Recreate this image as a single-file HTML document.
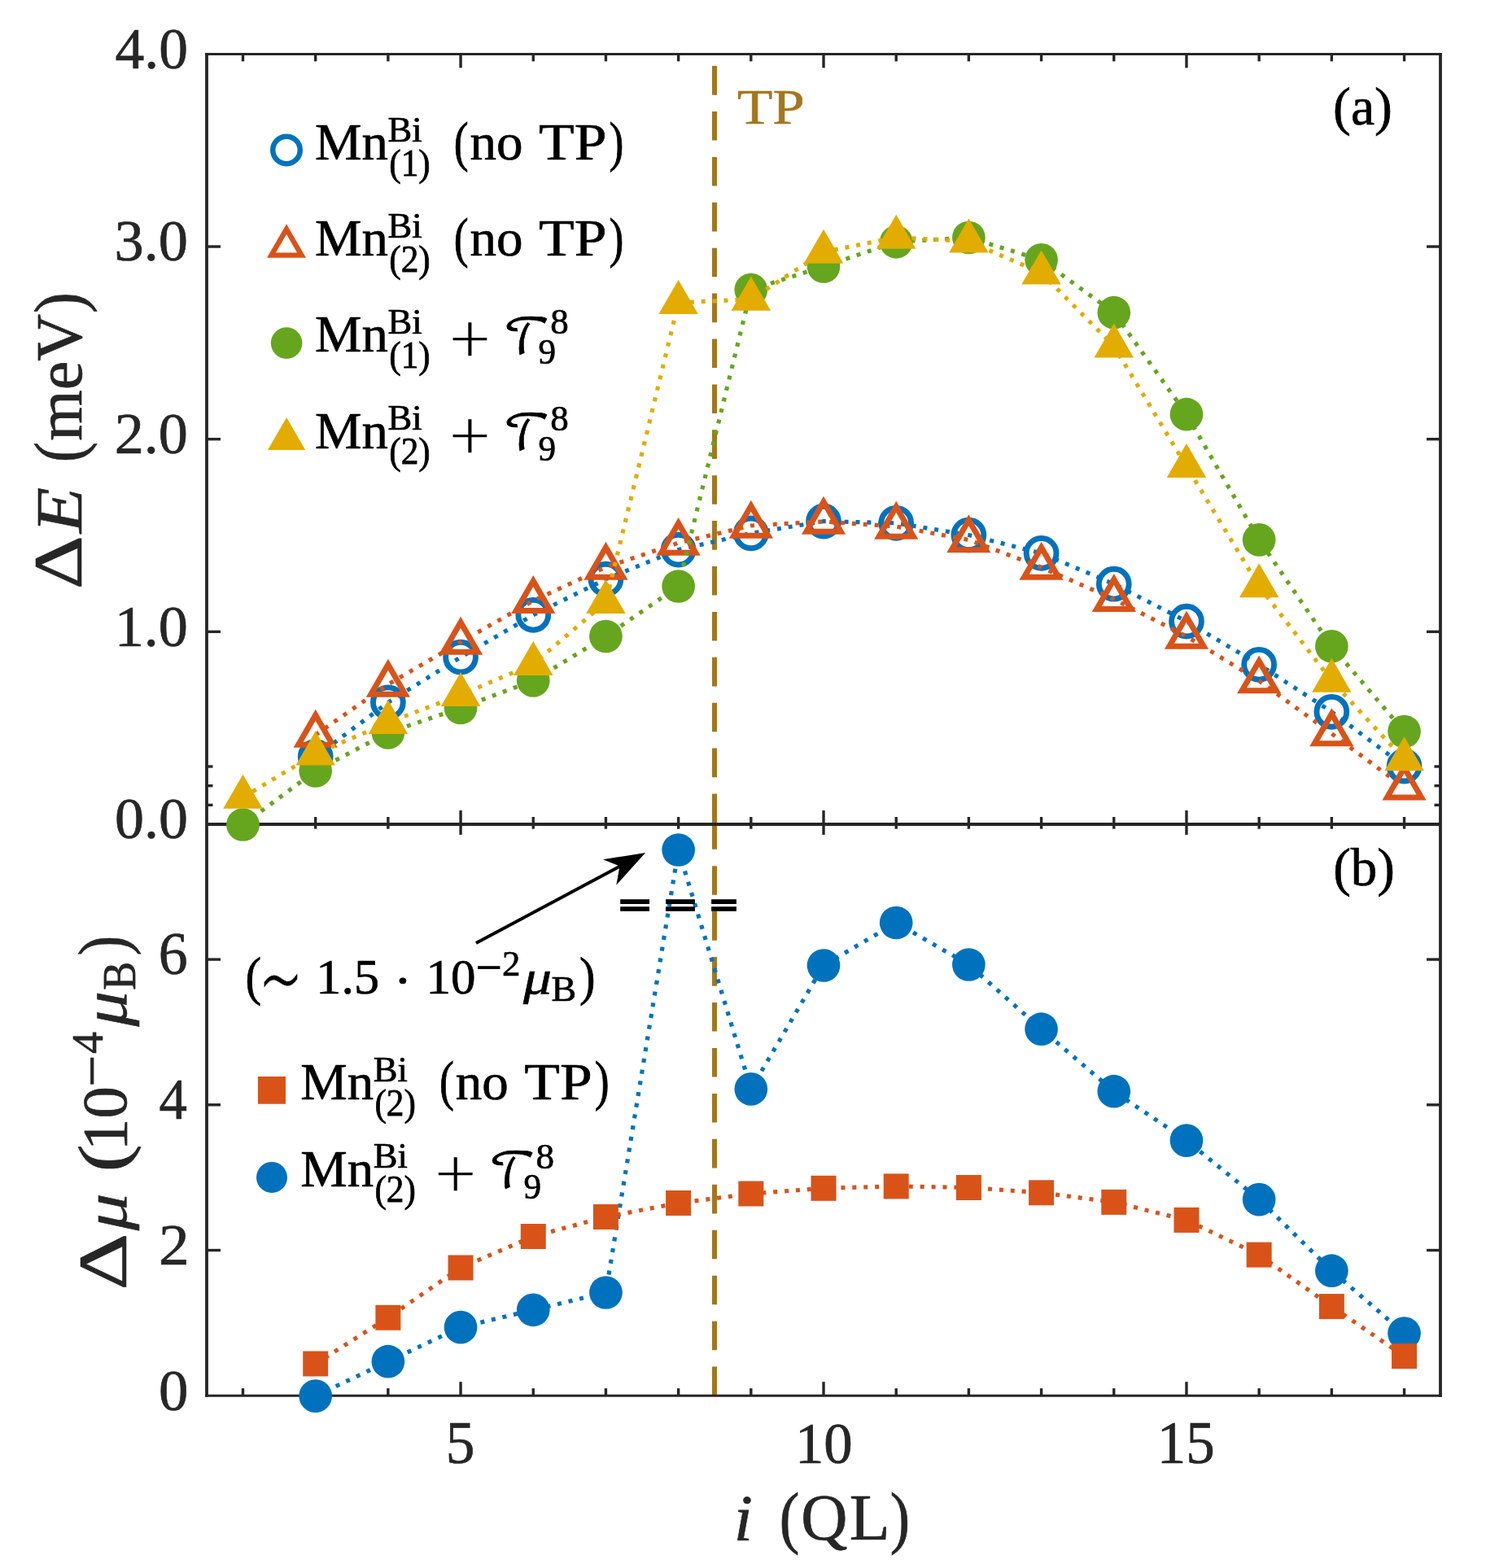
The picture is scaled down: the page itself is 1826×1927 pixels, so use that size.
<!DOCTYPE html>
<html><head><meta charset="utf-8"><title>Delta E and Delta mu vs i (QL)</title><style>html,body{margin:0;padding:0;background:#fff;}body{width:1826px;height:1927px;overflow:hidden;}svg text{font-kerning:none;white-space:pre;}</style></head><body>
<svg width="1826" height="1927" viewBox="0 0 1826 1927" style="display:block">
<rect width="1826" height="1927" fill="#fff"/>
<defs><clipPath id="cl"><rect x="254" y="1013" width="1516" height="702.2"/></clipPath></defs>
<line x1="878.0" y1="81.1" x2="878.0" y2="1013" stroke="#A5761D" stroke-width="6" stroke-dasharray="35.6 20.3"/>
<g clip-path="url(#cl)"><line x1="878.0" y1="1008.2" x2="878.0" y2="1715.2" stroke="#A5761D" stroke-width="6" stroke-dasharray="35.6 20.35"/></g>
<g stroke="#262626" fill="none">
<line x1="252.1" y1="66.4" x2="1771.9" y2="66.4" stroke-width="3.0"/>
<line x1="254.0" y1="1013.0" x2="1770.0" y2="1013.0" stroke-width="4"/>
<line x1="252.1" y1="1715.2" x2="1771.9" y2="1715.2" stroke-width="3.0"/>
<line x1="254.0" y1="64.9" x2="254.0" y2="1716.7" stroke-width="3.8"/>
<line x1="1770.0" y1="64.9" x2="1770.0" y2="1716.7" stroke-width="3.8"/>
<line x1="298.50" y1="66.4" x2="298.50" y2="75.4" stroke-width="3.4"/>
<line x1="298.50" y1="1004.0" x2="298.50" y2="1018.7" stroke-width="3.4"/>
<line x1="298.50" y1="1706.2" x2="298.50" y2="1715.2" stroke-width="3.4"/>
<line x1="387.69" y1="66.4" x2="387.69" y2="75.4" stroke-width="3.4"/>
<line x1="387.69" y1="1004.0" x2="387.69" y2="1018.7" stroke-width="3.4"/>
<line x1="387.69" y1="1706.2" x2="387.69" y2="1715.2" stroke-width="3.4"/>
<line x1="476.88" y1="66.4" x2="476.88" y2="75.4" stroke-width="3.4"/>
<line x1="476.88" y1="1004.0" x2="476.88" y2="1018.7" stroke-width="3.4"/>
<line x1="476.88" y1="1706.2" x2="476.88" y2="1715.2" stroke-width="3.4"/>
<line x1="566.06" y1="66.4" x2="566.06" y2="83.4" stroke-width="3.4"/>
<line x1="566.06" y1="996.0" x2="566.06" y2="1025.9" stroke-width="3.4"/>
<line x1="566.06" y1="1698.2" x2="566.06" y2="1715.2" stroke-width="3.4"/>
<line x1="655.25" y1="66.4" x2="655.25" y2="75.4" stroke-width="3.4"/>
<line x1="655.25" y1="1004.0" x2="655.25" y2="1018.7" stroke-width="3.4"/>
<line x1="655.25" y1="1706.2" x2="655.25" y2="1715.2" stroke-width="3.4"/>
<line x1="744.44" y1="66.4" x2="744.44" y2="75.4" stroke-width="3.4"/>
<line x1="744.44" y1="1004.0" x2="744.44" y2="1018.7" stroke-width="3.4"/>
<line x1="744.44" y1="1706.2" x2="744.44" y2="1715.2" stroke-width="3.4"/>
<line x1="833.63" y1="66.4" x2="833.63" y2="75.4" stroke-width="3.4"/>
<line x1="833.63" y1="1004.0" x2="833.63" y2="1018.7" stroke-width="3.4"/>
<line x1="833.63" y1="1706.2" x2="833.63" y2="1715.2" stroke-width="3.4"/>
<line x1="922.82" y1="66.4" x2="922.82" y2="75.4" stroke-width="3.4"/>
<line x1="922.82" y1="1004.0" x2="922.82" y2="1018.7" stroke-width="3.4"/>
<line x1="922.82" y1="1706.2" x2="922.82" y2="1715.2" stroke-width="3.4"/>
<line x1="1012.01" y1="66.4" x2="1012.01" y2="83.4" stroke-width="3.4"/>
<line x1="1012.01" y1="996.0" x2="1012.01" y2="1025.9" stroke-width="3.4"/>
<line x1="1012.01" y1="1698.2" x2="1012.01" y2="1715.2" stroke-width="3.4"/>
<line x1="1101.20" y1="66.4" x2="1101.20" y2="75.4" stroke-width="3.4"/>
<line x1="1101.20" y1="1004.0" x2="1101.20" y2="1018.7" stroke-width="3.4"/>
<line x1="1101.20" y1="1706.2" x2="1101.20" y2="1715.2" stroke-width="3.4"/>
<line x1="1190.39" y1="66.4" x2="1190.39" y2="75.4" stroke-width="3.4"/>
<line x1="1190.39" y1="1004.0" x2="1190.39" y2="1018.7" stroke-width="3.4"/>
<line x1="1190.39" y1="1706.2" x2="1190.39" y2="1715.2" stroke-width="3.4"/>
<line x1="1279.59" y1="66.4" x2="1279.59" y2="75.4" stroke-width="3.4"/>
<line x1="1279.59" y1="1004.0" x2="1279.59" y2="1018.7" stroke-width="3.4"/>
<line x1="1279.59" y1="1706.2" x2="1279.59" y2="1715.2" stroke-width="3.4"/>
<line x1="1368.78" y1="66.4" x2="1368.78" y2="75.4" stroke-width="3.4"/>
<line x1="1368.78" y1="1004.0" x2="1368.78" y2="1018.7" stroke-width="3.4"/>
<line x1="1368.78" y1="1706.2" x2="1368.78" y2="1715.2" stroke-width="3.4"/>
<line x1="1457.97" y1="66.4" x2="1457.97" y2="83.4" stroke-width="3.4"/>
<line x1="1457.97" y1="996.0" x2="1457.97" y2="1025.9" stroke-width="3.4"/>
<line x1="1457.97" y1="1698.2" x2="1457.97" y2="1715.2" stroke-width="3.4"/>
<line x1="1547.15" y1="66.4" x2="1547.15" y2="75.4" stroke-width="3.4"/>
<line x1="1547.15" y1="1004.0" x2="1547.15" y2="1018.7" stroke-width="3.4"/>
<line x1="1547.15" y1="1706.2" x2="1547.15" y2="1715.2" stroke-width="3.4"/>
<line x1="1636.35" y1="66.4" x2="1636.35" y2="75.4" stroke-width="3.4"/>
<line x1="1636.35" y1="1004.0" x2="1636.35" y2="1018.7" stroke-width="3.4"/>
<line x1="1636.35" y1="1706.2" x2="1636.35" y2="1715.2" stroke-width="3.4"/>
<line x1="1725.54" y1="66.4" x2="1725.54" y2="75.4" stroke-width="3.4"/>
<line x1="1725.54" y1="1004.0" x2="1725.54" y2="1018.7" stroke-width="3.4"/>
<line x1="1725.54" y1="1706.2" x2="1725.54" y2="1715.2" stroke-width="3.4"/>
<line x1="254.0" y1="776.35" x2="271.0" y2="776.35" stroke-width="3.4"/>
<line x1="1753.0" y1="776.35" x2="1770.0" y2="776.35" stroke-width="3.4"/>
<line x1="254.0" y1="539.70" x2="271.0" y2="539.70" stroke-width="3.4"/>
<line x1="1753.0" y1="539.70" x2="1770.0" y2="539.70" stroke-width="3.4"/>
<line x1="254.0" y1="303.05" x2="271.0" y2="303.05" stroke-width="3.4"/>
<line x1="1753.0" y1="303.05" x2="1770.0" y2="303.05" stroke-width="3.4"/>
<line x1="254.0" y1="989.34" x2="261.5" y2="989.34" stroke-width="3.4"/>
<line x1="1762.5" y1="989.34" x2="1770.0" y2="989.34" stroke-width="3.4"/>
<line x1="254.0" y1="965.67" x2="261.5" y2="965.67" stroke-width="3.4"/>
<line x1="1762.5" y1="965.67" x2="1770.0" y2="965.67" stroke-width="3.4"/>
<line x1="254.0" y1="942.00" x2="261.5" y2="942.00" stroke-width="3.4"/>
<line x1="1762.5" y1="942.00" x2="1770.0" y2="942.00" stroke-width="3.4"/>
<line x1="254.0" y1="1536.50" x2="271.0" y2="1536.50" stroke-width="3.4"/>
<line x1="1753.0" y1="1536.50" x2="1770.0" y2="1536.50" stroke-width="3.4"/>
<line x1="254.0" y1="1357.80" x2="271.0" y2="1357.80" stroke-width="3.4"/>
<line x1="1753.0" y1="1357.80" x2="1770.0" y2="1357.80" stroke-width="3.4"/>
<line x1="254.0" y1="1179.10" x2="271.0" y2="1179.10" stroke-width="3.4"/>
<line x1="1753.0" y1="1179.10" x2="1770.0" y2="1179.10" stroke-width="3.4"/>
</g>
<polyline points="387.69,930.00 476.88,863.30 566.06,807.60 655.25,755.80 744.44,711.70 833.63,675.60 922.82,655.40 1012.01,640.60 1101.20,642.80 1190.39,657.50 1279.59,679.90 1368.78,717.70 1457.97,763.60 1547.15,816.80 1636.35,874.80 1725.54,941.60" stroke="#0072BD" stroke-width="5.2" stroke-dasharray="5 8.9" fill="none"/>
<circle cx="387.69" cy="930.00" r="18.4" fill="none" stroke="#0072BD" stroke-width="6.9"/>
<circle cx="476.88" cy="863.30" r="18.4" fill="none" stroke="#0072BD" stroke-width="6.9"/>
<circle cx="566.06" cy="807.60" r="18.4" fill="none" stroke="#0072BD" stroke-width="6.9"/>
<circle cx="655.25" cy="755.80" r="18.4" fill="none" stroke="#0072BD" stroke-width="6.9"/>
<circle cx="744.44" cy="711.70" r="18.4" fill="none" stroke="#0072BD" stroke-width="6.9"/>
<circle cx="833.63" cy="675.60" r="18.4" fill="none" stroke="#0072BD" stroke-width="6.9"/>
<circle cx="922.82" cy="655.40" r="18.4" fill="none" stroke="#0072BD" stroke-width="6.9"/>
<circle cx="1012.01" cy="640.60" r="18.4" fill="none" stroke="#0072BD" stroke-width="6.9"/>
<circle cx="1101.20" cy="642.80" r="18.4" fill="none" stroke="#0072BD" stroke-width="6.9"/>
<circle cx="1190.39" cy="657.50" r="18.4" fill="none" stroke="#0072BD" stroke-width="6.9"/>
<circle cx="1279.59" cy="679.90" r="18.4" fill="none" stroke="#0072BD" stroke-width="6.9"/>
<circle cx="1368.78" cy="717.70" r="18.4" fill="none" stroke="#0072BD" stroke-width="6.9"/>
<circle cx="1457.97" cy="763.60" r="18.4" fill="none" stroke="#0072BD" stroke-width="6.9"/>
<circle cx="1547.15" cy="816.80" r="18.4" fill="none" stroke="#0072BD" stroke-width="6.9"/>
<circle cx="1636.35" cy="874.80" r="18.4" fill="none" stroke="#0072BD" stroke-width="6.9"/>
<circle cx="1725.54" cy="941.60" r="18.4" fill="none" stroke="#0072BD" stroke-width="6.9"/>
<polyline points="387.69,903.10 476.88,841.00 566.06,789.00 655.25,738.30 744.44,697.00 833.63,667.20 922.82,646.00 1012.01,641.00 1101.20,647.00 1190.39,663.50 1279.59,697.10 1368.78,736.30 1457.97,782.00 1547.15,836.70 1636.35,901.60 1725.54,967.90" stroke="#D95319" stroke-width="5.2" stroke-dasharray="5 8.9" fill="none"/>
<polygon points="387.69,878.80 408.73,915.25 366.64,915.25" fill="none" stroke="#D95319" stroke-width="7" stroke-linejoin="miter"/>
<polygon points="476.88,816.70 497.92,853.15 455.83,853.15" fill="none" stroke="#D95319" stroke-width="7" stroke-linejoin="miter"/>
<polygon points="566.06,764.70 587.11,801.15 545.02,801.15" fill="none" stroke="#D95319" stroke-width="7" stroke-linejoin="miter"/>
<polygon points="655.25,714.00 676.30,750.45 634.21,750.45" fill="none" stroke="#D95319" stroke-width="7" stroke-linejoin="miter"/>
<polygon points="744.44,672.70 765.49,709.15 723.40,709.15" fill="none" stroke="#D95319" stroke-width="7" stroke-linejoin="miter"/>
<polygon points="833.63,642.90 854.68,679.35 812.59,679.35" fill="none" stroke="#D95319" stroke-width="7" stroke-linejoin="miter"/>
<polygon points="922.82,621.70 943.87,658.15 901.78,658.15" fill="none" stroke="#D95319" stroke-width="7" stroke-linejoin="miter"/>
<polygon points="1012.01,616.70 1033.06,653.15 990.97,653.15" fill="none" stroke="#D95319" stroke-width="7" stroke-linejoin="miter"/>
<polygon points="1101.20,622.70 1122.25,659.15 1080.16,659.15" fill="none" stroke="#D95319" stroke-width="7" stroke-linejoin="miter"/>
<polygon points="1190.39,639.20 1211.44,675.65 1169.35,675.65" fill="none" stroke="#D95319" stroke-width="7" stroke-linejoin="miter"/>
<polygon points="1279.59,672.80 1300.63,709.25 1258.54,709.25" fill="none" stroke="#D95319" stroke-width="7" stroke-linejoin="miter"/>
<polygon points="1368.78,712.00 1389.82,748.45 1347.73,748.45" fill="none" stroke="#D95319" stroke-width="7" stroke-linejoin="miter"/>
<polygon points="1457.97,757.70 1479.01,794.15 1436.92,794.15" fill="none" stroke="#D95319" stroke-width="7" stroke-linejoin="miter"/>
<polygon points="1547.15,812.40 1568.20,848.85 1526.11,848.85" fill="none" stroke="#D95319" stroke-width="7" stroke-linejoin="miter"/>
<polygon points="1636.35,877.30 1657.39,913.75 1615.30,913.75" fill="none" stroke="#D95319" stroke-width="7" stroke-linejoin="miter"/>
<polygon points="1725.54,943.60 1746.58,980.05 1704.49,980.05" fill="none" stroke="#D95319" stroke-width="7" stroke-linejoin="miter"/>
<polyline points="298.50,1013.50 387.69,947.40 476.88,900.40 566.06,870.00 655.25,836.40 744.44,782.00 833.63,720.50 922.82,356.10 1012.01,327.50 1101.20,297.30 1190.39,292.00 1279.59,319.40 1368.78,384.20 1457.97,509.20 1547.15,663.40 1636.35,794.30 1725.54,899.00" stroke="#66A61E" stroke-width="5.2" stroke-dasharray="5 8.9" fill="none"/>
<circle cx="298.50" cy="1013.50" r="20.35" fill="#66A61E"/>
<circle cx="387.69" cy="947.40" r="20.35" fill="#66A61E"/>
<circle cx="476.88" cy="900.40" r="20.35" fill="#66A61E"/>
<circle cx="566.06" cy="870.00" r="20.35" fill="#66A61E"/>
<circle cx="655.25" cy="836.40" r="20.35" fill="#66A61E"/>
<circle cx="744.44" cy="782.00" r="20.35" fill="#66A61E"/>
<circle cx="833.63" cy="720.50" r="20.35" fill="#66A61E"/>
<circle cx="922.82" cy="356.10" r="20.35" fill="#66A61E"/>
<circle cx="1012.01" cy="327.50" r="20.35" fill="#66A61E"/>
<circle cx="1101.20" cy="297.30" r="20.35" fill="#66A61E"/>
<circle cx="1190.39" cy="292.00" r="20.35" fill="#66A61E"/>
<circle cx="1279.59" cy="319.40" r="20.35" fill="#66A61E"/>
<circle cx="1368.78" cy="384.20" r="20.35" fill="#66A61E"/>
<circle cx="1457.97" cy="509.20" r="20.35" fill="#66A61E"/>
<circle cx="1547.15" cy="663.40" r="20.35" fill="#66A61E"/>
<circle cx="1636.35" cy="794.30" r="20.35" fill="#66A61E"/>
<circle cx="1725.54" cy="899.00" r="20.35" fill="#66A61E"/>
<polyline points="298.50,979.80 387.69,926.60 476.88,888.00 566.06,854.00 655.25,816.00 744.44,740.00 833.63,372.00 922.82,367.80 1012.01,309.70 1101.20,291.70 1190.39,296.60 1279.59,335.50 1368.78,425.40 1457.97,573.00 1547.15,720.30 1636.35,836.70 1725.54,933.30" stroke="#E3AC00" stroke-width="5.2" stroke-dasharray="5 8.9" fill="none"/>
<polygon points="298.50,951.80 322.74,993.80 274.25,993.80" fill="#E3AC00"/>
<polygon points="387.69,898.60 411.93,940.60 363.44,940.60" fill="#E3AC00"/>
<polygon points="476.88,860.00 501.12,902.00 452.63,902.00" fill="#E3AC00"/>
<polygon points="566.06,826.00 590.31,868.00 541.82,868.00" fill="#E3AC00"/>
<polygon points="655.25,788.00 679.50,830.00 631.01,830.00" fill="#E3AC00"/>
<polygon points="744.44,712.00 768.69,754.00 720.20,754.00" fill="#E3AC00"/>
<polygon points="833.63,344.00 857.88,386.00 809.39,386.00" fill="#E3AC00"/>
<polygon points="922.82,339.80 947.07,381.80 898.58,381.80" fill="#E3AC00"/>
<polygon points="1012.01,281.70 1036.26,323.70 987.77,323.70" fill="#E3AC00"/>
<polygon points="1101.20,263.70 1125.45,305.70 1076.96,305.70" fill="#E3AC00"/>
<polygon points="1190.39,268.60 1214.64,310.60 1166.15,310.60" fill="#E3AC00"/>
<polygon points="1279.59,307.50 1303.83,349.50 1255.34,349.50" fill="#E3AC00"/>
<polygon points="1368.78,397.40 1393.02,439.40 1344.53,439.40" fill="#E3AC00"/>
<polygon points="1457.97,545.00 1482.21,587.00 1433.72,587.00" fill="#E3AC00"/>
<polygon points="1547.15,692.30 1571.40,734.30 1522.91,734.30" fill="#E3AC00"/>
<polygon points="1636.35,808.70 1660.59,850.70 1612.10,850.70" fill="#E3AC00"/>
<polygon points="1725.54,905.30 1749.78,947.30 1701.29,947.30" fill="#E3AC00"/>
<polyline points="387.69,1715.60 476.88,1673.20 566.06,1631.10 655.25,1609.80 744.44,1588.50 833.63,1044.50 922.82,1338.40 1012.01,1186.50 1101.20,1134.00 1190.39,1185.50 1279.59,1264.70 1368.78,1341.20 1457.97,1401.60 1547.15,1474.10 1636.35,1561.70 1725.54,1638.60" stroke="#0072BD" stroke-width="5.2" stroke-dasharray="5 8.9" fill="none"/>
<circle cx="387.69" cy="1715.60" r="20.35" fill="#0072BD"/>
<circle cx="476.88" cy="1673.20" r="20.35" fill="#0072BD"/>
<circle cx="566.06" cy="1631.10" r="20.35" fill="#0072BD"/>
<circle cx="655.25" cy="1609.80" r="20.35" fill="#0072BD"/>
<circle cx="744.44" cy="1588.50" r="20.35" fill="#0072BD"/>
<circle cx="833.63" cy="1044.50" r="20.35" fill="#0072BD"/>
<circle cx="922.82" cy="1338.40" r="20.35" fill="#0072BD"/>
<circle cx="1012.01" cy="1186.50" r="20.35" fill="#0072BD"/>
<circle cx="1101.20" cy="1134.00" r="20.35" fill="#0072BD"/>
<circle cx="1190.39" cy="1185.50" r="20.35" fill="#0072BD"/>
<circle cx="1279.59" cy="1264.70" r="20.35" fill="#0072BD"/>
<circle cx="1368.78" cy="1341.20" r="20.35" fill="#0072BD"/>
<circle cx="1457.97" cy="1401.60" r="20.35" fill="#0072BD"/>
<circle cx="1547.15" cy="1474.10" r="20.35" fill="#0072BD"/>
<circle cx="1636.35" cy="1561.70" r="20.35" fill="#0072BD"/>
<circle cx="1725.54" cy="1638.60" r="20.35" fill="#0072BD"/>
<polyline points="387.69,1676.00 476.88,1619.30 566.06,1558.00 655.25,1519.50 744.44,1495.50 833.63,1478.50 922.82,1467.00 1012.01,1460.30 1101.20,1457.90 1190.39,1459.50 1279.59,1465.80 1368.78,1477.40 1457.97,1499.40 1547.15,1542.10 1636.35,1605.60 1725.54,1666.70" stroke="#D95319" stroke-width="5.2" stroke-dasharray="5 8.9" fill="none"/>
<rect x="372.19" y="1660.50" width="31" height="31" fill="#D95319"/>
<rect x="461.38" y="1603.80" width="31" height="31" fill="#D95319"/>
<rect x="550.56" y="1542.50" width="31" height="31" fill="#D95319"/>
<rect x="639.75" y="1504.00" width="31" height="31" fill="#D95319"/>
<rect x="728.94" y="1480.00" width="31" height="31" fill="#D95319"/>
<rect x="818.13" y="1463.00" width="31" height="31" fill="#D95319"/>
<rect x="907.32" y="1451.50" width="31" height="31" fill="#D95319"/>
<rect x="996.51" y="1444.80" width="31" height="31" fill="#D95319"/>
<rect x="1085.70" y="1442.40" width="31" height="31" fill="#D95319"/>
<rect x="1174.89" y="1444.00" width="31" height="31" fill="#D95319"/>
<rect x="1264.09" y="1450.30" width="31" height="31" fill="#D95319"/>
<rect x="1353.28" y="1461.90" width="31" height="31" fill="#D95319"/>
<rect x="1442.47" y="1483.90" width="31" height="31" fill="#D95319"/>
<rect x="1531.65" y="1526.60" width="31" height="31" fill="#D95319"/>
<rect x="1620.85" y="1590.10" width="31" height="31" fill="#D95319"/>
<rect x="1710.04" y="1651.20" width="31" height="31" fill="#D95319"/>
<text transform="translate(141.50,83.78) scale(0.9957,1)" font-size="71.85" fill="#262626" stroke="#262626" stroke-width="0.70" style="font-family:'Liberation Serif', serif;font-style:normal">4.0</text>
<text transform="translate(140.43,320.43) scale(1.0079,1)" font-size="71.85" fill="#262626" stroke="#262626" stroke-width="0.69" style="font-family:'Liberation Serif', serif;font-style:normal">3.0</text>
<text transform="translate(140.73,557.08) scale(1.0046,1)" font-size="71.85" fill="#262626" stroke="#262626" stroke-width="0.70" style="font-family:'Liberation Serif', serif;font-style:normal">2.0</text>
<text transform="translate(140.65,793.73) scale(1.0054,1)" font-size="71.85" fill="#262626" stroke="#262626" stroke-width="0.70" style="font-family:'Liberation Serif', serif;font-style:normal">1.0</text>
<text transform="translate(140.96,1030.38) scale(1.0019,1)" font-size="71.85" fill="#262626" stroke="#262626" stroke-width="0.70" style="font-family:'Liberation Serif', serif;font-style:normal">0.0</text>
<text transform="translate(194.81,1197.19) scale(0.9833,1)" font-size="73.08" fill="#262626" stroke="#262626" stroke-width="0.71" style="font-family:'Liberation Serif', serif;font-style:normal">6</text>
<text transform="translate(195.56,1374.60) scale(0.9620,1)" font-size="71.56" fill="#262626" stroke="#262626" stroke-width="0.73" style="font-family:'Liberation Serif', serif;font-style:normal">4</text>
<text transform="translate(195.09,1553.90) scale(1.0457,1)" font-size="72.04" fill="#262626" stroke="#262626" stroke-width="0.67" style="font-family:'Liberation Serif', serif;font-style:normal">2</text>
<text transform="translate(194.92,1732.60) scale(1.0165,1)" font-size="71.72" fill="#262626" stroke="#262626" stroke-width="0.69" style="font-family:'Liberation Serif', serif;font-style:normal">0</text>
<text transform="translate(547.76,1798.09) scale(0.9762,1)" font-size="72.98" fill="#262626" stroke="#262626" stroke-width="0.72" style="font-family:'Liberation Serif', serif;font-style:normal">5</text>
<text transform="translate(976.88,1797.99) scale(0.9793,1)" font-size="72.32" fill="#262626" stroke="#262626" stroke-width="0.71" style="font-family:'Liberation Serif', serif;font-style:normal">10</text>
<text transform="translate(1421.87,1798.09) scale(0.9713,1)" font-size="72.99" fill="#262626" stroke="#262626" stroke-width="0.72" style="font-family:'Liberation Serif', serif;font-style:normal">15</text>
<text transform="translate(901.85,1892.60) scale(1.0500,1)" font-size="79.44" fill="#262626" stroke="#262626" stroke-width="0.67" style="font-family:'Liberation Serif', serif;font-style:italic">i</text>
<text transform="translate(957.75,1892.64) scale(0.8723,1)" font-size="84.81" fill="#262626" stroke="#262626" stroke-width="0.80" style="font-family:'Liberation Serif', serif;font-style:normal">(</text>
<text transform="translate(984.25,1892.00) scale(0.9808,1)" font-size="80.76" fill="#262626" stroke="#262626" stroke-width="0.71" style="font-family:'Liberation Serif', serif;font-style:normal">Q</text>
<text transform="translate(1043.75,1892.00) scale(1.0102,1)" font-size="80.79" fill="#262626" stroke="#262626" stroke-width="0.69" style="font-family:'Liberation Serif', serif;font-style:normal">L</text>
<text transform="translate(1093.75,1892.64) scale(0.8585,1)" font-size="84.81" fill="#262626" stroke="#262626" stroke-width="0.82" style="font-family:'Liberation Serif', serif;font-style:normal">)</text>
<text transform="translate(100.00,720.40) rotate(-90) translate(-3.92,0) scale(1.2134,1)" font-size="84.83" fill="#262626" stroke="#262626" stroke-width="0.58" style="font-family:'Liberation Serif', serif;font-style:normal">Δ</text>
<text transform="translate(100.00,720.40) rotate(-90) translate(65.08,0) scale(1.1495,1)" font-size="80.33" fill="#262626" stroke="#262626" stroke-width="0.61" style="font-family:'Liberation Serif', serif;font-style:italic">E</text>
<text transform="translate(101.16,720.40) rotate(-90) translate(152.08,0) scale(0.8815,1)" font-size="85.69" fill="#262626" stroke="#262626" stroke-width="0.79" style="font-family:'Liberation Serif', serif;font-style:normal">(</text>
<text transform="translate(99.50,720.40) rotate(-90) translate(178.72,0) scale(1.0073,1)" font-size="79.56" fill="#262626" stroke="#262626" stroke-width="0.69" style="font-family:'Liberation Serif', serif;font-style:normal">meV</text>
<text transform="translate(101.16,720.40) rotate(-90) translate(335.54,0) scale(0.8906,1)" font-size="85.69" fill="#262626" stroke="#262626" stroke-width="0.79" style="font-family:'Liberation Serif', serif;font-style:normal">)</text>
<text transform="translate(155.20,1581.50) rotate(-90) translate(-4.16,0) scale(1.2859,1)" font-size="84.98" fill="#262626" stroke="#262626" stroke-width="0.54" style="font-family:'Liberation Serif', serif;font-style:normal">Δ</text>
<text transform="translate(154.78,1581.50) rotate(-90) translate(69.29,0) scale(1.2266,1)" font-size="74.46" fill="#262626" stroke="#262626" stroke-width="0.57" style="font-family:'Liberation Serif', serif;font-style:italic">μ</text>
<text transform="translate(154.88,1581.50) rotate(-90) translate(141.00,0) scale(1.1965,1)" font-size="85.58" fill="#262626" stroke="#262626" stroke-width="0.59" style="font-family:'Liberation Serif', serif;font-style:normal">(</text>
<text transform="translate(154.94,1581.50) rotate(-90) translate(167.23,0) scale(1.0153,1)" font-size="78.10" fill="#262626" stroke="#262626" stroke-width="0.69" style="font-family:'Liberation Serif', serif;font-style:normal">10</text>
<text transform="translate(137.40,1581.50) rotate(-90) translate(245.95,0) scale(0.9573,1)" font-size="72.28" fill="#262626" stroke="#262626" stroke-width="0.73" style="font-family:'Liberation Serif', serif;font-style:normal">−</text>
<text transform="translate(126.30,1581.50) rotate(-90) translate(286.55,0) scale(0.9944,1)" font-size="54.09" fill="#262626" stroke="#262626" stroke-width="0.70" style="font-family:'Liberation Serif', serif;font-style:normal">4</text>
<text transform="translate(154.58,1581.50) rotate(-90) translate(319.88,0) scale(1.1471,1)" font-size="75.35" fill="#262626" stroke="#262626" stroke-width="0.61" style="font-family:'Liberation Serif', serif;font-style:italic">μ</text>
<text transform="translate(165.74,1581.50) rotate(-90) translate(364.78,0) scale(0.9350,1)" font-size="56.26" fill="#262626" stroke="#262626" stroke-width="0.75" style="font-family:'Liberation Serif', serif;font-style:normal">B</text>
<text transform="translate(155.48,1581.50) rotate(-90) translate(406.90,0) scale(0.8690,1)" font-size="85.58" fill="#262626" stroke="#262626" stroke-width="0.81" style="font-family:'Liberation Serif', serif;font-style:normal">)</text>
<text transform="translate(387.04,196.00) scale(1.0083,1)" font-size="64.14" fill="#000" stroke="#000" stroke-width="0.69" style="font-family:'Liberation Serif', serif;font-style:normal">Mn</text>
<text transform="translate(476.62,173.87) scale(0.9919,1)" font-size="44.96" fill="#000" stroke="#000" stroke-width="0.71" style="font-family:'Liberation Serif', serif;font-style:normal">Bi</text>
<text transform="translate(478.19,215.73) scale(0.9175,1)" font-size="47.31" fill="#000" stroke="#000" stroke-width="0.76" style="font-family:'Liberation Serif', serif;font-style:normal">(1)</text>
<text transform="translate(557.74,196.55) scale(0.8026,1)" font-size="66.94" fill="#000" stroke="#000" stroke-width="0.87" style="font-family:'Liberation Serif', serif;font-style:normal">(</text>
<text transform="translate(577.51,196.00) scale(1.0148,1)" font-size="64.12" fill="#000" stroke="#000" stroke-width="0.69" style="font-family:'Liberation Serif', serif;font-style:normal">no</text>
<text transform="translate(662.11,196.00) scale(1.1123,1)" font-size="64.30" fill="#000" stroke="#000" stroke-width="0.63" style="font-family:'Liberation Serif', serif;font-style:normal">TP</text>
<text transform="translate(748.57,196.55) scale(0.8026,1)" font-size="66.94" fill="#000" stroke="#000" stroke-width="0.87" style="font-family:'Liberation Serif', serif;font-style:normal">)</text>
<text transform="translate(387.04,314.00) scale(1.0083,1)" font-size="64.14" fill="#000" stroke="#000" stroke-width="0.69" style="font-family:'Liberation Serif', serif;font-style:normal">Mn</text>
<text transform="translate(476.62,291.87) scale(0.9919,1)" font-size="44.96" fill="#000" stroke="#000" stroke-width="0.71" style="font-family:'Liberation Serif', serif;font-style:normal">Bi</text>
<text transform="translate(478.19,333.73) scale(0.9175,1)" font-size="47.31" fill="#000" stroke="#000" stroke-width="0.76" style="font-family:'Liberation Serif', serif;font-style:normal">(2)</text>
<text transform="translate(557.74,314.55) scale(0.8026,1)" font-size="66.94" fill="#000" stroke="#000" stroke-width="0.87" style="font-family:'Liberation Serif', serif;font-style:normal">(</text>
<text transform="translate(577.51,314.00) scale(1.0148,1)" font-size="64.12" fill="#000" stroke="#000" stroke-width="0.69" style="font-family:'Liberation Serif', serif;font-style:normal">no</text>
<text transform="translate(662.11,314.00) scale(1.1123,1)" font-size="64.30" fill="#000" stroke="#000" stroke-width="0.63" style="font-family:'Liberation Serif', serif;font-style:normal">TP</text>
<text transform="translate(748.57,314.55) scale(0.8026,1)" font-size="66.94" fill="#000" stroke="#000" stroke-width="0.87" style="font-family:'Liberation Serif', serif;font-style:normal">)</text>
<text transform="translate(387.04,432.00) scale(1.0083,1)" font-size="64.14" fill="#000" stroke="#000" stroke-width="0.69" style="font-family:'Liberation Serif', serif;font-style:normal">Mn</text>
<text transform="translate(476.62,409.87) scale(0.9919,1)" font-size="44.96" fill="#000" stroke="#000" stroke-width="0.71" style="font-family:'Liberation Serif', serif;font-style:normal">Bi</text>
<text transform="translate(478.19,451.73) scale(0.9175,1)" font-size="47.31" fill="#000" stroke="#000" stroke-width="0.76" style="font-family:'Liberation Serif', serif;font-style:normal">(1)</text>
<text transform="translate(550.06,437.10) scale(1.0190,1)" font-size="64.28" fill="#000" stroke="#000" stroke-width="0.69" style="font-family:'DejaVu Sans', sans-serif;font-weight:200;font-style:normal">+</text>
<text transform="translate(618.28,434.70) scale(0.9418,1)" font-size="59.97" fill="#000" stroke="#000" stroke-width="0.74" style="font-family:'DejaVu Math TeX Gyre', 'DejaVu Serif', serif;font-style:normal">𝒯</text>
<text transform="translate(676.18,410.17) scale(1.0205,1)" font-size="44.16" fill="#000" stroke="#000" stroke-width="0.69" style="font-family:'Liberation Serif', serif;font-style:normal">8</text>
<text transform="translate(661.41,447.47) scale(0.9721,1)" font-size="44.35" fill="#000" stroke="#000" stroke-width="0.72" style="font-family:'Liberation Serif', serif;font-style:normal">9</text>
<text transform="translate(387.04,550.60) scale(1.0083,1)" font-size="64.14" fill="#000" stroke="#000" stroke-width="0.69" style="font-family:'Liberation Serif', serif;font-style:normal">Mn</text>
<text transform="translate(476.62,528.47) scale(0.9919,1)" font-size="44.96" fill="#000" stroke="#000" stroke-width="0.71" style="font-family:'Liberation Serif', serif;font-style:normal">Bi</text>
<text transform="translate(478.19,570.33) scale(0.9175,1)" font-size="47.31" fill="#000" stroke="#000" stroke-width="0.76" style="font-family:'Liberation Serif', serif;font-style:normal">(2)</text>
<text transform="translate(550.06,555.70) scale(1.0190,1)" font-size="64.28" fill="#000" stroke="#000" stroke-width="0.69" style="font-family:'DejaVu Sans', sans-serif;font-weight:200;font-style:normal">+</text>
<text transform="translate(618.28,553.30) scale(0.9418,1)" font-size="59.97" fill="#000" stroke="#000" stroke-width="0.74" style="font-family:'DejaVu Math TeX Gyre', 'DejaVu Serif', serif;font-style:normal">𝒯</text>
<text transform="translate(676.18,528.77) scale(1.0205,1)" font-size="44.16" fill="#000" stroke="#000" stroke-width="0.69" style="font-family:'Liberation Serif', serif;font-style:normal">8</text>
<text transform="translate(661.41,566.07) scale(0.9721,1)" font-size="44.35" fill="#000" stroke="#000" stroke-width="0.72" style="font-family:'Liberation Serif', serif;font-style:normal">9</text>
<circle cx="352.0" cy="184.4" r="16.75" fill="none" stroke="#0072BD" stroke-width="6.5"/>
<polygon points="352.00,281.60 370.53,313.70 333.47,313.70" fill="none" stroke="#D95319" stroke-width="6.3"/>
<circle cx="352.1" cy="421.6" r="19.3" fill="#66A61E"/>
<polygon points="352.10,513.00 375.14,552.90 329.06,552.90" fill="#E3AC00"/>
<text transform="translate(369.24,1350.80) scale(1.0083,1)" font-size="64.14" fill="#000" stroke="#000" stroke-width="0.69" style="font-family:'Liberation Serif', serif;font-style:normal">Mn</text>
<text transform="translate(458.82,1328.67) scale(0.9919,1)" font-size="44.96" fill="#000" stroke="#000" stroke-width="0.71" style="font-family:'Liberation Serif', serif;font-style:normal">Bi</text>
<text transform="translate(460.39,1370.53) scale(0.9175,1)" font-size="47.31" fill="#000" stroke="#000" stroke-width="0.76" style="font-family:'Liberation Serif', serif;font-style:normal">(2)</text>
<text transform="translate(539.94,1351.35) scale(0.8026,1)" font-size="66.94" fill="#000" stroke="#000" stroke-width="0.87" style="font-family:'Liberation Serif', serif;font-style:normal">(</text>
<text transform="translate(559.71,1350.80) scale(1.0148,1)" font-size="64.12" fill="#000" stroke="#000" stroke-width="0.69" style="font-family:'Liberation Serif', serif;font-style:normal">no</text>
<text transform="translate(644.31,1350.80) scale(1.1123,1)" font-size="64.30" fill="#000" stroke="#000" stroke-width="0.63" style="font-family:'Liberation Serif', serif;font-style:normal">TP</text>
<text transform="translate(730.77,1351.35) scale(0.8026,1)" font-size="66.94" fill="#000" stroke="#000" stroke-width="0.87" style="font-family:'Liberation Serif', serif;font-style:normal">)</text>
<text transform="translate(369.24,1457.60) scale(1.0083,1)" font-size="64.14" fill="#000" stroke="#000" stroke-width="0.69" style="font-family:'Liberation Serif', serif;font-style:normal">Mn</text>
<text transform="translate(458.82,1435.47) scale(0.9919,1)" font-size="44.96" fill="#000" stroke="#000" stroke-width="0.71" style="font-family:'Liberation Serif', serif;font-style:normal">Bi</text>
<text transform="translate(460.39,1477.33) scale(0.9175,1)" font-size="47.31" fill="#000" stroke="#000" stroke-width="0.76" style="font-family:'Liberation Serif', serif;font-style:normal">(2)</text>
<text transform="translate(532.26,1462.70) scale(1.0190,1)" font-size="64.28" fill="#000" stroke="#000" stroke-width="0.69" style="font-family:'DejaVu Sans', sans-serif;font-weight:200;font-style:normal">+</text>
<text transform="translate(600.48,1460.30) scale(0.9418,1)" font-size="59.97" fill="#000" stroke="#000" stroke-width="0.74" style="font-family:'DejaVu Math TeX Gyre', 'DejaVu Serif', serif;font-style:normal">𝒯</text>
<text transform="translate(658.38,1435.77) scale(1.0205,1)" font-size="44.16" fill="#000" stroke="#000" stroke-width="0.69" style="font-family:'Liberation Serif', serif;font-style:normal">8</text>
<text transform="translate(643.61,1473.07) scale(0.9721,1)" font-size="44.35" fill="#000" stroke="#000" stroke-width="0.72" style="font-family:'Liberation Serif', serif;font-style:normal">9</text>
<rect x="317.0" y="1323.0" width="34" height="33.7" fill="#D95319"/>
<circle cx="334.0" cy="1446.9" r="19.0" fill="#0072BD"/>
<text transform="translate(1638.12,152.84) scale(0.9924,1)" font-size="66.06" fill="#000" stroke="#000" stroke-width="0.71" style="font-family:'Liberation Serif', serif;font-style:normal">(a)</text>
<text transform="translate(1638.15,1087.79) scale(0.9796,1)" font-size="66.28" fill="#000" stroke="#000" stroke-width="0.71" style="font-family:'Liberation Serif', serif;font-style:normal">(b)</text>
<text transform="translate(905.92,151.60) scale(1.1432,1)" font-size="62.01" fill="#A5761D" stroke="#A5761D" stroke-width="0.61" style="font-family:'Liberation Serif', serif;font-style:normal">TP</text>
<text transform="translate(301.42,1221.81) scale(0.8885,1)" font-size="66.17" fill="#000" stroke="#000" stroke-width="0.79" style="font-family:'Liberation Serif', serif;font-style:normal">(</text>
<text transform="translate(318.17,1245.34) scale(0.7357,1)" font-size="114.20" fill="#000" stroke="#000" stroke-width="0.95" style="font-family:'DejaVu Sans', sans-serif;font-weight:200;font-style:normal">∼</text>
<text transform="translate(388.33,1221.14) scale(1.0262,1)" font-size="60.65" fill="#000" stroke="#000" stroke-width="0.68" style="font-family:'Liberation Serif', serif;font-style:normal">1.5</text>
<text transform="translate(483.44,1225.97) scale(1.1250,1)" font-size="60.93" fill="#000" stroke="#000" stroke-width="0.62" style="font-family:'Liberation Serif', serif;font-style:normal">·</text>
<text transform="translate(523.54,1221.41) scale(1.0061,1)" font-size="60.61" fill="#000" stroke="#000" stroke-width="0.70" style="font-family:'Liberation Serif', serif;font-style:normal">10</text>
<text transform="translate(584.44,1208.60) scale(0.9526,1)" font-size="60.24" fill="#000" stroke="#000" stroke-width="0.73" style="font-family:'Liberation Serif', serif;font-style:normal">−</text>
<text transform="translate(616.93,1199.20) scale(1.0252,1)" font-size="43.80" fill="#000" stroke="#000" stroke-width="0.68" style="font-family:'Liberation Serif', serif;font-style:normal">2</text>
<text transform="translate(643.07,1221.04) scale(1.1986,1)" font-size="58.26" fill="#000" stroke="#000" stroke-width="0.58" style="font-family:'Liberation Serif', serif;font-style:italic">μ</text>
<text transform="translate(677.58,1229.77) scale(1.0465,1)" font-size="43.94" fill="#000" stroke="#000" stroke-width="0.67" style="font-family:'Liberation Serif', serif;font-style:normal">B</text>
<text transform="translate(711.91,1221.91) scale(0.8945,1)" font-size="65.73" fill="#000" stroke="#000" stroke-width="0.78" style="font-family:'Liberation Serif', serif;font-style:normal">)</text>
<line x1="585" y1="1159" x2="762" y2="1064.6" stroke="#000" stroke-width="4"/>
<polygon points="793.1,1048.1 741,1056.2 761.5,1064.5 757.3,1087.8" fill="#000"/>
<rect x="762.2" y="1105.2" width="35.8" height="5.8" fill="#000"/>
<rect x="762.2" y="1114.2" width="35.8" height="5.6" fill="#000"/>
<rect x="818.1" y="1105.2" width="35.8" height="5.8" fill="#000"/>
<rect x="818.1" y="1114.2" width="35.8" height="5.6" fill="#000"/>
<rect x="874.1" y="1105.2" width="30.8" height="5.8" fill="#000"/>
<rect x="874.1" y="1114.2" width="30.8" height="5.6" fill="#000"/>
</svg>
</body></html>
